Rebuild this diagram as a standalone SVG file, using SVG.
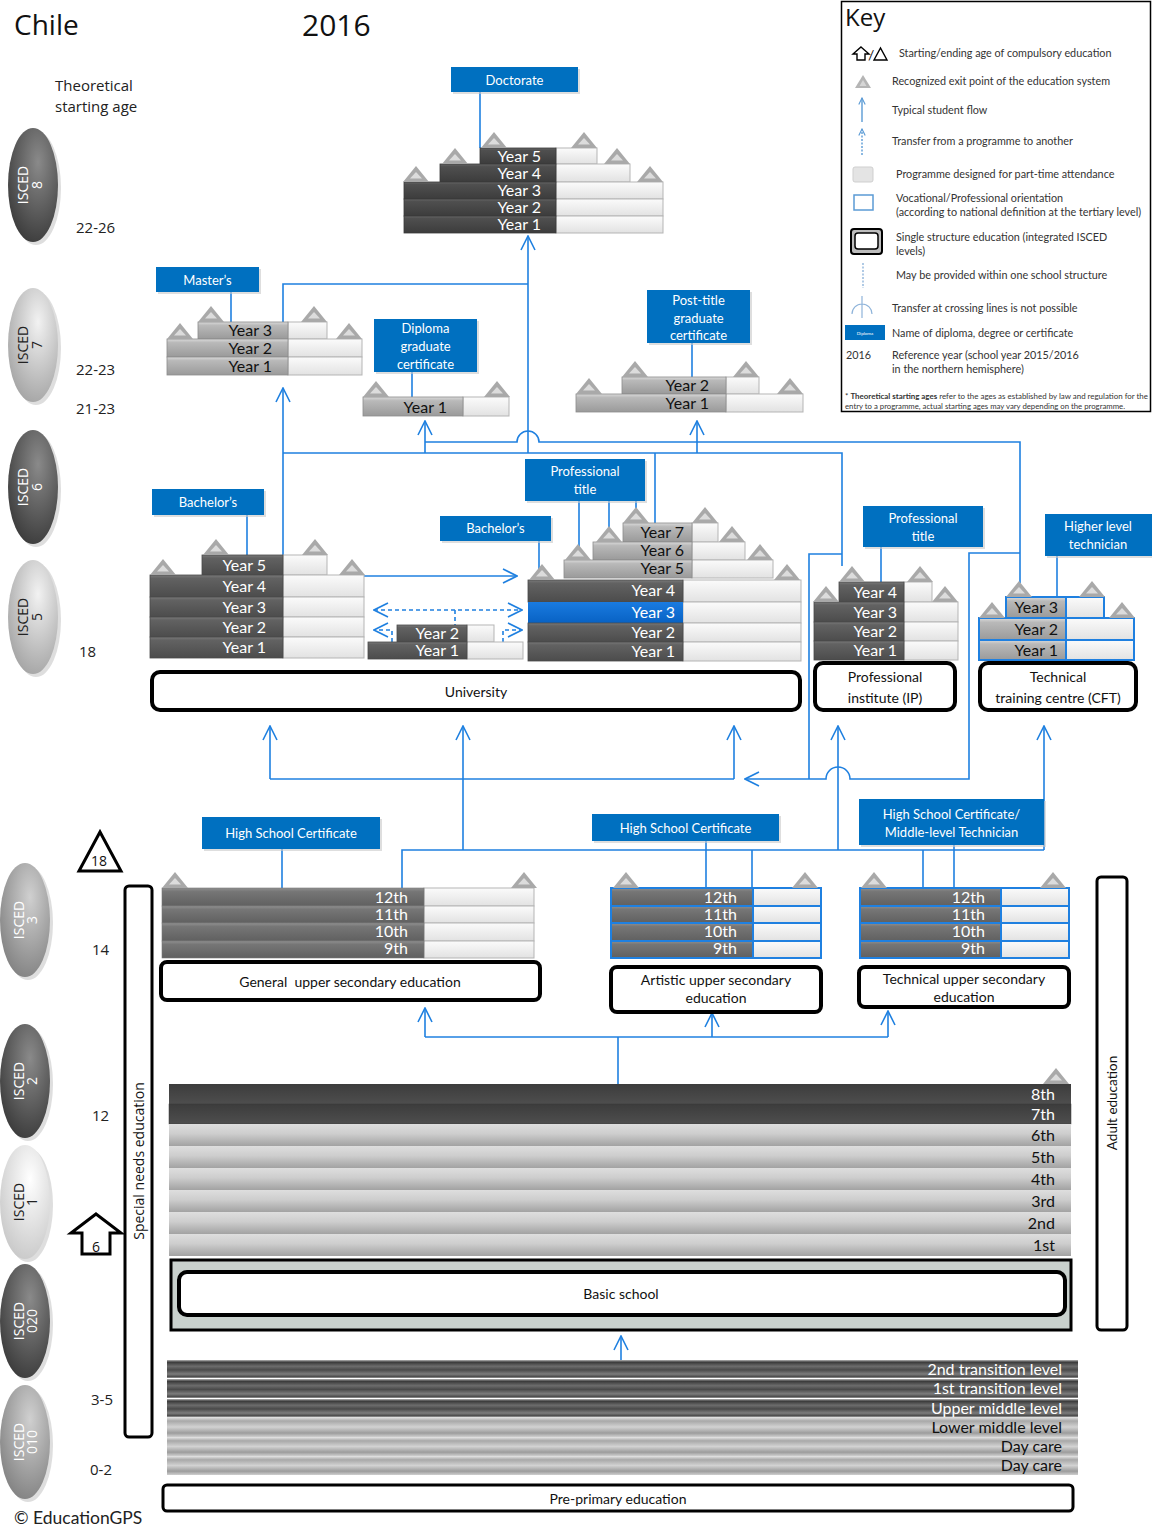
<svg xmlns="http://www.w3.org/2000/svg" width="1152" height="1527" viewBox="0 0 1152 1527">
<defs>
<style>
text{font-family:Lato,"Open Sans","Liberation Sans",sans-serif}
.os{font-family:"Open Sans","Liberation Sans",sans-serif}
.yr{font-size:16px;text-anchor:end}
.w{fill:#fff}
.k{fill:#111}
.lb{fill:#0070c0}
.sh{fill:#c8c8c8;opacity:.6}
.lt{fill:#fff;font-size:13px;text-anchor:middle}
.ln{fill:none;stroke:#1f80e0;stroke-width:1.6}
.ar{marker-end:url(#ah)}
.as{marker-start:url(#ah)}
.ds{stroke-dasharray:4 3}
.bx{fill:#fff;stroke:#000;stroke-width:4}
.bt{font-size:14px;text-anchor:middle;fill:#111}
.lp{fill:url(#gL);stroke:#b5b5b5;stroke-width:1}
.lpb{fill:url(#gL);stroke:#1f80e0;stroke-width:2}
.dk{fill:url(#gD);stroke:#4a4a4a;stroke-width:.8}
.doc{fill:url(#gDoc);stroke:#3a3a3a;stroke-width:.8}
.sv{fill:url(#gS);stroke:#8c8c8c;stroke-width:.8}
.svb{fill:url(#gS);stroke:#1f80e0;stroke-width:2}
.us{fill:url(#gUS);stroke:#777;stroke-width:.6}
.usb{fill:url(#gUS);stroke:#1f80e0;stroke-width:2}
.ov{font-size:14px;text-anchor:middle}
.age{font-size:15px;fill:#222}
.ky{font-size:10.8px;fill:#333}
</style>
<linearGradient id="gD" x1="0" y1="0" x2="0" y2="1"><stop offset="0" stop-color="#7a7a7a"/><stop offset=".15" stop-color="#626262"/><stop offset="1" stop-color="#4c4c4c"/></linearGradient>
<linearGradient id="gDoc" x1="0" y1="0" x2="0" y2="1"><stop offset="0" stop-color="#666"/><stop offset=".15" stop-color="#4f4f4f"/><stop offset="1" stop-color="#3c3c3c"/></linearGradient>
<linearGradient id="gS" x1="0" y1="0" x2="0" y2="1"><stop offset="0" stop-color="#dadada"/><stop offset=".2" stop-color="#b9b9b9"/><stop offset="1" stop-color="#9a9a9a"/></linearGradient>
<linearGradient id="gL" x1="0" y1="0" x2="0" y2="1"><stop offset="0" stop-color="#fbfbfb"/><stop offset="1" stop-color="#e2e2e2"/></linearGradient>
<linearGradient id="gB" x1="0" y1="0" x2="0" y2="1"><stop offset="0" stop-color="#1a7be0"/><stop offset="1" stop-color="#0862c4"/></linearGradient>
<linearGradient id="gUS" x1="0" y1="0" x2="0" y2="1"><stop offset="0" stop-color="#909090"/><stop offset=".2" stop-color="#767676"/><stop offset="1" stop-color="#606060"/></linearGradient>
<linearGradient id="gBD" x1="0" y1="0" x2="0" y2="1"><stop offset="0" stop-color="#3c3c3c"/><stop offset="1" stop-color="#4e4e4e"/></linearGradient>
<linearGradient id="gBL" x1="0" y1="0" x2="0" y2="1"><stop offset="0" stop-color="#dedede"/><stop offset=".45" stop-color="#cdcdcd"/><stop offset="1" stop-color="#a2a2a2"/></linearGradient>
<linearGradient id="gPD" x1="0" y1="0" x2="0" y2="1"><stop offset="0" stop-color="#b5b5b5"/><stop offset=".12" stop-color="#3a3a3a"/><stop offset=".35" stop-color="#6c6c6c"/><stop offset=".55" stop-color="#4a4a4a"/><stop offset=".78" stop-color="#7c7c7c"/><stop offset=".92" stop-color="#4e4e4e"/><stop offset="1" stop-color="#9a9a9a"/></linearGradient>
<linearGradient id="gPL" x1="0" y1="0" x2="0" y2="1"><stop offset="0" stop-color="#e6e6e6"/><stop offset=".2" stop-color="#a8a8a8"/><stop offset=".5" stop-color="#d2d2d2"/><stop offset=".8" stop-color="#9c9c9c"/><stop offset="1" stop-color="#cfcfcf"/></linearGradient>
<radialGradient id="oD" cx=".6" cy=".3" r=".8"><stop offset="0" stop-color="#8a8a8a"/><stop offset="1" stop-color="#353535"/></radialGradient>
<radialGradient id="oM" cx=".6" cy=".3" r=".8"><stop offset="0" stop-color="#d0d0d0"/><stop offset="1" stop-color="#7c7c7c"/></radialGradient>
<radialGradient id="oL" cx=".6" cy=".3" r=".8"><stop offset="0" stop-color="#f2f2f2"/><stop offset="1" stop-color="#9e9e9e"/></radialGradient>
<radialGradient id="oW" cx=".6" cy=".3" r=".8"><stop offset="0" stop-color="#ffffff"/><stop offset="1" stop-color="#c4c4c4"/></radialGradient>
<marker id="ah" viewBox="0 0 16 16" refX="15" refY="8" markerWidth="16" markerHeight="16" markerUnits="userSpaceOnUse" orient="auto-start-reverse"><path d="M1,1 L15,8 L1,15" fill="none" stroke="#1f80e0" stroke-width="1.6"/></marker>
<marker id="ahk" viewBox="0 0 10 10" refX="9" refY="5" markerWidth="8" markerHeight="8" markerUnits="userSpaceOnUse" orient="auto"><path d="M1,1 L9,5 L1,9" fill="none" stroke="#5b9bd5" stroke-width="1.4"/></marker>
<g id="tri"><path d="M-13,0 L0,-16 L13,0 Z" fill="#a9a9a9"/><path d="M-6,-3.5 L0,-10 L6,-3.5 Z" fill="#dcdcdc"/></g>
</defs>
<rect width="1152" height="1527" fill="#fff"/>

<g id="titles">
<text class="os" x="14" y="35" font-size="28" fill="#111">Chile</text>
<text class="os" x="302" y="36" font-size="30" fill="#111">2016</text>
<text class="os" x="55" y="91" font-size="15" fill="#222">Theoretical</text>
<text class="os" x="55" y="112" font-size="15" fill="#222">starting age</text>
<text x="14" y="1524" font-family="'Liberation Sans',Arial,sans-serif" font-size="17.5" fill="#222">© EducationGPS</text>
</g>

<g id="isced-levels">
<g id="isced8"><ellipse cx="36" cy="188" rx="25" ry="57" class="sh"/><ellipse cx="33" cy="185" rx="25" ry="57" fill="url(#oD)"/><g transform="translate(28,185) rotate(-90)"><text class="ov os w">ISCED</text><text class="ov os w" y="14">8</text></g></g>
<g id="isced7"><ellipse cx="36" cy="348" rx="25" ry="57" class="sh"/><ellipse cx="33" cy="345" rx="25" ry="57" fill="url(#oL)"/><g transform="translate(28,345) rotate(-90)"><text class="ov os" fill="#222">ISCED</text><text class="ov os" fill="#222" y="14">7</text></g></g>
<g id="isced6"><ellipse cx="36" cy="490" rx="25" ry="57" class="sh"/><ellipse cx="33" cy="487" rx="25" ry="57" fill="url(#oD)"/><g transform="translate(28,487) rotate(-90)"><text class="ov os w">ISCED</text><text class="ov os w" y="14">6</text></g></g>
<g id="isced5"><ellipse cx="36" cy="620" rx="25" ry="57" class="sh"/><ellipse cx="33" cy="617" rx="25" ry="57" fill="url(#oL)"/><g transform="translate(28,617) rotate(-90)"><text class="ov os" fill="#222">ISCED</text><text class="ov os" fill="#222" y="14">5</text></g></g>
<g id="isced3"><ellipse cx="28" cy="923" rx="25" ry="57" class="sh"/><ellipse cx="25" cy="920" rx="25" ry="57" fill="url(#oM)"/><g transform="translate(24,920) rotate(-90)"><text class="ov os w">ISCED</text><text class="ov os w" y="13">3</text></g></g>
<g id="isced2"><ellipse cx="28" cy="1084" rx="25" ry="57" class="sh"/><ellipse cx="25" cy="1081" rx="25" ry="57" fill="url(#oD)"/><g transform="translate(24,1081) rotate(-90)"><text class="ov os w">ISCED</text><text class="ov os w" y="13">2</text></g></g>
<g id="isced1"><ellipse cx="28" cy="1205" rx="25" ry="57" class="sh"/><ellipse cx="25" cy="1202" rx="25" ry="57" fill="url(#oW)"/><g transform="translate(24,1202) rotate(-90)"><text class="ov os" fill="#222">ISCED</text><text class="ov os" fill="#222" y="13">1</text></g></g>
<g id="isced020"><ellipse cx="28" cy="1324" rx="25" ry="57" class="sh"/><ellipse cx="25" cy="1321" rx="25" ry="57" fill="url(#oD)"/><g transform="translate(24,1321) rotate(-90)"><text class="ov os w">ISCED</text><text class="ov os w" y="13">020</text></g></g>
<g id="isced010"><ellipse cx="28" cy="1445" rx="25" ry="57" class="sh"/><ellipse cx="25" cy="1442" rx="25" ry="57" fill="url(#oM)"/><g transform="translate(24,1442) rotate(-90)"><text class="ov os w">ISCED</text><text class="ov os w" y="13">010</text></g></g>
</g>

<g id="ages">
<text class="os age" x="76" y="233">22-26</text>
<text class="os age" x="76" y="375">22-23</text>
<text class="os age" x="76" y="414">21-23</text>
<text class="os age" x="79" y="657">18</text>
<text class="os age" x="92" y="955">14</text>
<text class="os age" x="92" y="1121">12</text>
<text class="os age" x="91" y="1405">3-5</text>
<text class="os age" x="90" y="1475">0-2</text>
</g>

<g id="compulsory">
<path d="M79,871 L100,832 L121,871 Z" fill="#fff" stroke="#000" stroke-width="3"/>
<text class="os" x="99" y="866" font-size="14" text-anchor="middle" fill="#111">18</text>
<path d="M96,1214 L121,1233 L110,1233 L110,1254 L82,1254 L82,1233 L71,1233 Z" fill="#fff" stroke="#000" stroke-width="3"/>
<text class="os" x="96" y="1252" font-size="14" text-anchor="middle" fill="#111">6</text>
</g>

<g id="connectors">
<path class="ln" d="M480,92 V148"/>
<path class="ln" d="M231,292 V322"/>
<path class="ln" d="M412,372 V397"/>
<path class="ln" d="M692,343 V377"/>
<path class="ln" d="M247,515 V555"/>
<path class="ln" d="M579,501 V560 M609,501 V542 M636,501 V523"/>
<path class="ln" d="M539,541 V570"/>
<path class="ln" d="M881,547 V582"/>
<path class="ln" d="M1057,556 V597"/>
<path class="ln" d="M282,849 V888"/>
<path class="ln" d="M706,841 V888"/>
<path class="ln" d="M954,845 V888"/>
<path class="ln ar" d="M283,555 V388"/>
<path class="ln" d="M283,453 H842 V566"/>
<path class="ln ar" d="M528,453 V236"/>
<path class="ln" d="M283,322 V284 H528"/>
<path class="ln ar" d="M425,453 V421"/>
<path class="ln ar" d="M697,453 V421"/>
<path class="ln" d="M655,453 V523"/>
<path class="ln" d="M425,442 H517 A11,11 0 0 1 539,442 H1020 V583"/>
<path class="ln ar" d="M364,576 H517"/>
<path class="ln ds ar as" d="M374,610 H522"/>
<path class="ln ds" d="M455,610 V625"/>
<path class="ln ds ar" d="M392,642 V630 H374"/>
<path class="ln ds ar" d="M503,642 V630 H522"/>
<path class="ln" d="M842,554 H809 V779"/>
<path class="ln ar" d="M1020,553 H969 V779 H850 A12,12 0 0 0 826,779 H745"/>
<path class="ln" d="M270,779 H734"/>
<path class="ln ar" d="M270,779 V726"/>
<path class="ln ar" d="M734,779 V726"/>
<path class="ln" d="M402,888 V850 H1044"/>
<path class="ln ar" d="M463,850 V726"/>
<path class="ln ar" d="M838,850 V726"/>
<path class="ln ar" d="M1044,850 V726"/>
<path class="ln" d="M752,850 V888"/>
<path class="ln" d="M923,850 V888"/>
<path class="ln" d="M425,1037 H888"/>
<path class="ln ar" d="M425,1037 V1008"/>
<path class="ln ar" d="M712,1037 V1013"/>
<path class="ln ar" d="M888,1037 V1011"/>
<path class="ln" d="M618,1037 V1084"/>
<path class="ln ar" d="M621,1378 V1336"/>
</g>

<g id="doctorate">
<rect class="sh" x="453" y="69" width="127" height="25"/>
<rect class="lb" x="451" y="67" width="127" height="25"/>
<text class="lt" x="514.5" y="84.5">Doctorate</text>
<rect class="lp" x="556" y="148" width="41" height="16"/>
<rect class="lp" x="556" y="164" width="74" height="18"/>
<rect class="lp" x="556" y="182" width="107" height="17"/>
<rect class="lp" x="556" y="199" width="107" height="17"/>
<rect class="lp" x="556" y="216" width="107" height="17"/>
<rect class="doc" x="480" y="148" width="76" height="16"/>
<rect class="doc" x="440" y="164" width="116" height="18"/>
<rect class="doc" x="404" y="182" width="152" height="17"/>
<rect class="doc" x="404" y="199" width="152" height="17"/>
<rect class="doc" x="404" y="216" width="152" height="17"/>
<text class="yr w" x="541" y="161.5">Year 5</text>
<text class="yr w" x="541" y="178.5">Year 4</text>
<text class="yr w" x="541" y="196">Year 3</text>
<text class="yr w" x="541" y="213">Year 2</text>
<text class="yr w" x="541" y="230">Year 1</text>
<use href="#tri" x="494" y="148"/><use href="#tri" x="584" y="148"/>
<use href="#tri" x="455" y="164"/><use href="#tri" x="617" y="164"/>
<use href="#tri" x="416" y="182"/><use href="#tri" x="650" y="182"/>
</g>

<g id="masters">
<rect class="sh" x="158" y="269" width="103" height="25"/>
<rect class="lb" x="156" y="267" width="103" height="25"/>
<text class="lt" x="207.5" y="285">Master’s</text>
<rect class="lp" x="288" y="322" width="39" height="17"/>
<rect class="lp" x="288" y="339" width="74" height="18"/>
<rect class="lp" x="288" y="357" width="74" height="18"/>
<rect class="sv" x="198" y="322" width="90" height="17"/>
<rect class="sv" x="167" y="339" width="121" height="18"/>
<rect class="sv" x="167" y="357" width="121" height="18"/>
<text class="yr k" x="272" y="336">Year 3</text>
<text class="yr k" x="272" y="353.5">Year 2</text>
<text class="yr k" x="272" y="371.5">Year 1</text>
<use href="#tri" x="211" y="322"/><use href="#tri" x="314" y="322"/>
<use href="#tri" x="180" y="339"/><use href="#tri" x="349" y="339"/>
</g>

<g id="diploma">
<rect class="sh" x="376" y="321" width="103" height="53"/>
<rect class="lb" x="374" y="319" width="103" height="53"/>
<text class="lt" x="425.5" y="333">Diploma</text>
<text class="lt" x="425.5" y="351">graduate</text>
<text class="lt" x="425.5" y="369">certificate</text>
<rect class="lp" x="463" y="397" width="46" height="19"/>
<rect class="sv" x="363" y="397" width="100" height="19"/>
<text class="yr k" x="447" y="412.5">Year 1</text>
<use href="#tri" x="376" y="397"/><use href="#tri" x="497" y="397"/>
</g>

<g id="posttitle">
<rect class="sh" x="649" y="292" width="103" height="53"/>
<rect class="lb" x="647" y="290" width="103" height="53"/>
<text class="lt" x="698.5" y="304.5">Post-title</text>
<text class="lt" x="698.5" y="322.5">graduate</text>
<text class="lt" x="698.5" y="340">certificate</text>
<rect class="lp" x="726" y="377" width="33" height="17"/>
<rect class="lp" x="726" y="394" width="77" height="18"/>
<rect class="sv" x="622" y="377" width="104" height="17"/>
<rect class="sv" x="576" y="394" width="150" height="18"/>
<text class="yr k" x="709" y="391">Year 2</text>
<text class="yr k" x="709" y="409">Year 1</text>
<use href="#tri" x="635" y="377"/><use href="#tri" x="746" y="377"/>
<use href="#tri" x="589" y="394"/><use href="#tri" x="790" y="394"/>
</g>

<g id="bachelors-5">
<rect class="sh" x="154" y="491" width="112" height="26"/>
<rect class="lb" x="152" y="489" width="112" height="26"/>
<text class="lt" x="208" y="507">Bachelor’s</text>
<rect class="lp" x="283" y="555" width="44" height="20"/>
<rect class="lp" x="283" y="575" width="81" height="22"/>
<rect class="lp" x="283" y="597" width="81" height="20"/>
<rect class="lp" x="283" y="617" width="81" height="20"/>
<rect class="lp" x="283" y="637" width="81" height="21"/>
<rect class="dk" x="202" y="555" width="81" height="20"/>
<rect class="dk" x="150" y="575" width="133" height="22"/>
<rect class="dk" x="150" y="597" width="133" height="20"/>
<rect class="dk" x="150" y="617" width="133" height="20"/>
<rect class="dk" x="150" y="637" width="133" height="21"/>
<text class="yr w" x="266" y="570.5">Year 5</text>
<text class="yr w" x="266" y="591.5">Year 4</text>
<text class="yr w" x="266" y="612.5">Year 3</text>
<text class="yr w" x="266" y="632.5">Year 2</text>
<text class="yr w" x="266" y="653">Year 1</text>
<use href="#tri" x="216" y="555"/><use href="#tri" x="315" y="555"/>
<use href="#tri" x="163" y="575"/><use href="#tri" x="352" y="575"/>
</g>

<g id="short-programme">
<rect class="lp" x="467" y="625" width="27" height="17"/>
<rect class="lp" x="467" y="642" width="56" height="17"/>
<rect class="dk" x="397" y="625" width="70" height="17"/>
<rect class="dk" x="368" y="642" width="99" height="17"/>
<text class="yr w" x="459" y="638.5">Year 2</text>
<text class="yr w" x="459" y="656">Year 1</text>
</g>

<g id="professional-title-uni">
<rect class="sh" x="527" y="461" width="120" height="42"/>
<rect class="lb" x="525" y="459" width="120" height="42"/>
<text class="lt" x="585" y="476">Professional</text>
<text class="lt" x="585" y="494">title</text>
<rect class="sh" x="442" y="518" width="111" height="25"/>
<rect class="lb" x="440" y="516" width="111" height="25"/>
<text class="lt" x="495.5" y="533">Bachelor’s</text>
<rect class="lp" x="692" y="523" width="26" height="19"/>
<rect class="lp" x="692" y="542" width="53" height="18"/>
<rect class="lp" x="692" y="560" width="81" height="18"/>
<rect class="lp" x="683" y="580" width="118" height="22"/>
<rect class="lp" x="683" y="602" width="118" height="21"/>
<rect class="lp" x="683" y="623" width="118" height="19"/>
<rect class="lp" x="683" y="642" width="118" height="19"/>
<rect class="sv" x="623" y="523" width="69" height="19"/>
<rect class="sv" x="593" y="542" width="99" height="18"/>
<rect class="sv" x="564" y="560" width="128" height="18"/>
<rect class="dk" x="528" y="580" width="155" height="22"/>
<rect x="528" y="602" width="155" height="21" fill="url(#gB)"/>
<rect class="dk" x="528" y="623" width="155" height="19"/>
<rect class="dk" x="528" y="642" width="155" height="19"/>
<text class="yr k" x="684" y="538">Year 7</text>
<text class="yr k" x="684" y="556">Year 6</text>
<text class="yr k" x="684" y="574">Year 5</text>
<text class="yr w" x="675" y="596">Year 4</text>
<text class="yr w" x="675" y="617.5">Year 3</text>
<text class="yr w" x="675" y="637.5">Year 2</text>
<text class="yr w" x="675" y="656.5">Year 1</text>
<use href="#tri" x="636" y="523"/><use href="#tri" x="705" y="523"/>
<use href="#tri" x="609" y="542"/><use href="#tri" x="732" y="542"/>
<use href="#tri" x="578" y="560"/><use href="#tri" x="760" y="560"/>
<use href="#tri" x="542" y="580"/><use href="#tri" x="787" y="580"/>
</g>

<g id="university">
<rect class="bx" x="152" y="672" width="648" height="38" rx="8"/>
<text class="bt" x="476" y="697">University</text>
</g>

<g id="ip">
<rect class="sh" x="865" y="508" width="120" height="41"/>
<rect class="lb" x="863" y="506" width="120" height="41"/>
<text class="lt" x="923" y="523">Professional</text>
<text class="lt" x="923" y="541">title</text>
<rect class="lp" x="904" y="582" width="28" height="20"/>
<rect class="lp" x="904" y="602" width="54" height="20"/>
<rect class="lp" x="904" y="622" width="54" height="19"/>
<rect class="lp" x="904" y="641" width="54" height="19"/>
<rect class="dk" x="839" y="582" width="65" height="20"/>
<rect class="dk" x="814" y="602" width="90" height="20"/>
<rect class="dk" x="814" y="622" width="90" height="19"/>
<rect class="dk" x="814" y="641" width="90" height="19"/>
<text class="yr w" x="897" y="597.5">Year 4</text>
<text class="yr w" x="897" y="617.5">Year 3</text>
<text class="yr w" x="897" y="637">Year 2</text>
<text class="yr w" x="897" y="656">Year 1</text>
<use href="#tri" x="852" y="582"/><use href="#tri" x="920" y="582"/>
<use href="#tri" x="826" y="602"/><use href="#tri" x="945" y="602"/>
<rect class="bx" x="815" y="663" width="140" height="47" rx="8"/>
<text class="bt" x="885" y="682">Professional</text>
<text class="bt" x="885" y="703">institute (IP)</text>
</g>

<g id="cft">
<rect class="sh" x="1047" y="516" width="105" height="42"/>
<rect class="lb" x="1045" y="514" width="107" height="42"/>
<text class="lt" x="1098" y="531">Higher level</text>
<text class="lt" x="1098" y="549">technician</text>
<rect class="lpb" x="1066" y="597" width="38" height="21"/>
<rect class="lpb" x="1066" y="618" width="68" height="22"/>
<rect class="lpb" x="1066" y="640" width="68" height="20"/>
<rect class="svb" x="1006" y="597" width="60" height="21"/>
<rect class="svb" x="979" y="618" width="87" height="22"/>
<rect class="svb" x="979" y="640" width="87" height="20"/>
<text class="yr k" x="1058" y="613">Year 3</text>
<text class="yr k" x="1058" y="634.5">Year 2</text>
<text class="yr k" x="1058" y="655.5">Year 1</text>
<use href="#tri" x="1019" y="597"/><use href="#tri" x="1092" y="597"/>
<use href="#tri" x="992" y="618"/><use href="#tri" x="1122" y="618"/>
<rect class="bx" x="980" y="663" width="156" height="47" rx="8"/>
<text class="bt" x="1058" y="682">Technical</text>
<text class="bt" x="1058" y="703">training centre (CFT)</text>
</g>

<g id="general-upper-secondary">
<rect class="sh" x="204" y="819" width="178" height="32"/>
<rect class="lb" x="202" y="817" width="178" height="32"/>
<text class="lt" x="291" y="838">High School Certificate</text>
<rect class="lp" x="424" y="888" width="110" height="18"/>
<rect class="lp" x="424" y="906" width="110" height="17"/>
<rect class="lp" x="424" y="923" width="110" height="18"/>
<rect class="lp" x="424" y="941" width="110" height="17"/>
<rect class="us" x="162" y="888" width="262" height="18"/>
<rect class="us" x="162" y="906" width="262" height="17"/>
<rect class="us" x="162" y="923" width="262" height="18"/>
<rect class="us" x="162" y="941" width="262" height="17"/>
<text class="yr w" x="408" y="902.5">12th</text>
<text class="yr w" x="408" y="919.5">11th</text>
<text class="yr w" x="408" y="937">10th</text>
<text class="yr w" x="408" y="954">9th</text>
<use href="#tri" x="175" y="888"/><use href="#tri" x="524" y="888"/>
<rect class="bx" x="161" y="962" width="379" height="38" rx="6"/>
<text class="bt" x="350" y="987" xml:space="preserve">General  upper secondary education</text>
</g>

<g id="artistic-upper-secondary">
<rect class="sh" x="594" y="816" width="187" height="27"/>
<rect class="lb" x="592" y="814" width="187" height="27"/>
<text class="lt" x="685.5" y="832.5">High School Certificate</text>
<rect class="lpb" x="753" y="888" width="68" height="18"/>
<rect class="lpb" x="753" y="906" width="68" height="17"/>
<rect class="lpb" x="753" y="923" width="68" height="18"/>
<rect class="lpb" x="753" y="941" width="68" height="17"/>
<rect class="usb" x="611" y="888" width="142" height="18"/>
<rect class="usb" x="611" y="906" width="142" height="17"/>
<rect class="usb" x="611" y="923" width="142" height="18"/>
<rect class="usb" x="611" y="941" width="142" height="17"/>
<text class="yr w" x="737" y="902.5">12th</text>
<text class="yr w" x="737" y="919.5">11th</text>
<text class="yr w" x="737" y="937">10th</text>
<text class="yr w" x="737" y="954">9th</text>
<use href="#tri" x="626" y="888"/><use href="#tri" x="805" y="888"/>
<rect class="bx" x="611" y="967" width="210" height="45" rx="6"/>
<text class="bt" x="716" y="985" font-size="13">Artistic upper secondary</text>
<text class="bt" x="716" y="1003" font-size="13">education</text>
</g>

<g id="technical-upper-secondary">
<rect class="sh" x="861" y="801" width="185" height="46"/>
<rect class="lb" x="859" y="799" width="185" height="46"/>
<text class="lt" x="951.5" y="819">High School Certificate/</text>
<text class="lt" x="951.5" y="837">Middle-level Technician</text>
<rect class="lpb" x="1001" y="888" width="68" height="18"/>
<rect class="lpb" x="1001" y="906" width="68" height="17"/>
<rect class="lpb" x="1001" y="923" width="68" height="18"/>
<rect class="lpb" x="1001" y="941" width="68" height="17"/>
<rect class="usb" x="860" y="888" width="141" height="18"/>
<rect class="usb" x="860" y="906" width="141" height="17"/>
<rect class="usb" x="860" y="923" width="141" height="18"/>
<rect class="usb" x="860" y="941" width="141" height="17"/>
<text class="yr w" x="985" y="902.5">12th</text>
<text class="yr w" x="985" y="919.5">11th</text>
<text class="yr w" x="985" y="937">10th</text>
<text class="yr w" x="985" y="954">9th</text>
<use href="#tri" x="874" y="888"/><use href="#tri" x="1053" y="888"/>
<rect class="bx" x="859" y="967" width="210" height="40" rx="6"/>
<text class="bt" x="964" y="984" font-size="13">Technical upper secondary</text>
<text class="bt" x="964" y="1002" font-size="13">education</text>
</g>

<g id="basic-school">
<rect x="169" y="1084" width="902" height="20" fill="url(#gBD)"/>
<rect x="169" y="1104" width="902" height="20" fill="url(#gBD)" stroke="#3a3a3a" stroke-width=".5"/>
<rect x="169" y="1124" width="902" height="22" fill="url(#gBL)"/>
<rect x="169" y="1146" width="902" height="22" fill="url(#gBL)"/>
<rect x="169" y="1168" width="902" height="22" fill="url(#gBL)"/>
<rect x="169" y="1190" width="902" height="22" fill="url(#gBL)"/>
<rect x="169" y="1212" width="902" height="22" fill="url(#gBL)"/>
<rect x="169" y="1234" width="902" height="22" fill="url(#gBL)"/>
<text class="yr w" x="1055" y="1100" font-size="15">8th</text>
<text class="yr w" x="1055" y="1120" font-size="15">7th</text>
<text class="yr k" x="1055" y="1141" font-size="15">6th</text>
<text class="yr k" x="1055" y="1163" font-size="15">5th</text>
<text class="yr k" x="1055" y="1185" font-size="15">4th</text>
<text class="yr k" x="1055" y="1207" font-size="15">3rd</text>
<text class="yr k" x="1055" y="1229" font-size="15">2nd</text>
<text class="yr k" x="1055" y="1251" font-size="15">1st</text>
<use href="#tri" x="1056" y="1084"/>
<rect x="171" y="1260" width="900" height="70" fill="#c9d1cd" stroke="#000" stroke-width="3"/>
<rect class="bx" x="179" y="1272" width="886" height="43" rx="8"/>
<text class="bt" x="621" y="1299">Basic school</text>
</g>

<g id="pre-primary">
<rect x="167" y="1360" width="911" height="18" fill="url(#gPD)"/>
<rect x="167" y="1379" width="911" height="19" fill="url(#gPD)"/>
<rect x="167" y="1399" width="911" height="18" fill="url(#gPD)"/>
<rect x="167" y="1417" width="911" height="20" fill="url(#gPL)"/>
<rect x="167" y="1437" width="911" height="19" fill="url(#gPL)"/>
<rect x="167" y="1456" width="911" height="19" fill="url(#gPL)"/>
<text class="yr w" x="1062" y="1374.5" font-size="15">2nd transition level</text>
<text class="yr w" x="1062" y="1394" font-size="15">1st transition level</text>
<text class="yr w" x="1062" y="1413.5" font-size="15">Upper middle level</text>
<text class="yr k" x="1062" y="1433" font-size="15">Lower middle level</text>
<text class="yr k" x="1062" y="1452" font-size="15">Day care</text>
<text class="yr k" x="1062" y="1471" font-size="15">Day care</text>
<rect x="163" y="1485" width="910" height="26" rx="4" fill="#fff" stroke="#000" stroke-width="3"/>
<text class="bt" x="618" y="1504">Pre-primary education</text>
</g>

<g id="special-needs">
<rect x="125" y="886" width="27" height="551" rx="4" fill="#fff" stroke="#000" stroke-width="3"/>
<text class="os" transform="translate(144,1161) rotate(-90)" font-size="14" text-anchor="middle" fill="#111">Special needs education</text>
</g>

<g id="adult-education">
<rect x="1097" y="877" width="30" height="453" rx="4" fill="#fff" stroke="#000" stroke-width="3"/>
<text transform="translate(1117,1103) rotate(-90)" font-family="'DejaVu Sans',Verdana,sans-serif" font-size="13.5" text-anchor="middle" fill="#111">Adult education</text>
</g>

<g id="key">
<rect x="841.5" y="1.5" width="309" height="410" fill="#fff" stroke="#000" stroke-width="1.5"/>
<text class="os" x="845" y="26" font-size="24" fill="#111">Key</text>
<path d="M861,47 L869,54 L865,54 L865,60 L857,60 L857,54 L853,54 Z" fill="#fff" stroke="#000" stroke-width="1.4"/>
<text x="868" y="60" font-size="14" fill="#111">/</text>
<path d="M874,60 L880.5,48 L887,60 Z" fill="#fff" stroke="#000" stroke-width="1.4"/>
<text class="ky" x="899" y="57">Starting/ending age of compulsory education</text>
<path d="M855,88 L863,75 L871,88 Z" fill="#b5b5b5"/>
<path d="M859.5,86 L863,80 L866.5,86 Z" fill="#d6d6d6"/>
<text class="ky" x="892" y="85">Recognized exit point of the education system</text>
<path d="M862,122 V98" fill="none" stroke="#5b9bd5" stroke-width="1.4" marker-end="url(#ahk)"/>
<text class="ky" x="892" y="114">Typical student flow</text>
<path d="M862,155 V129" fill="none" stroke="#5b9bd5" stroke-width="1.4" stroke-dasharray="2 1.5" marker-end="url(#ahk)"/>
<text class="ky" x="892" y="145">Transfer from a programme to another</text>
<rect x="853" y="167" width="20" height="15" rx="2" fill="#e4e4e4" stroke="#cfcfcf"/>
<text class="ky" x="896" y="178">Programme designed for part-time attendance</text>
<rect x="854" y="195" width="19" height="15" fill="#fff" stroke="#5b9bd5" stroke-width="1.5"/>
<text class="ky" x="896" y="202">Vocational/Professional orientation</text>
<text class="ky" x="896" y="216">(according to national definition at the tertiary level)</text>
<rect x="851" y="229" width="31" height="25" rx="3" fill="#bdbdbd" stroke="#000" stroke-width="2"/>
<rect x="855" y="233" width="23" height="16" rx="3" fill="#fff" stroke="#000" stroke-width="1.5"/>
<text class="ky" x="896" y="241">Single structure education (integrated ISCED</text>
<text class="ky" x="896" y="255">levels)</text>
<path d="M863,263 V288" stroke="#8fb4da" stroke-width="1.4" stroke-dasharray="2 1.5"/>
<text class="ky" x="896" y="279">May be provided within one school structure</text>
<path d="M862,296 V318 M852,314 A10,10 0 0 1 872,314" fill="none" stroke="#8fb4da" stroke-width="1.2"/>
<text class="ky" x="892" y="312">Transfer at crossing lines is not possible</text>
<rect x="845" y="325" width="40" height="15" fill="#0070c0"/>
<text x="865" y="334.5" font-size="4.5" text-anchor="middle" fill="#fff">Diploma</text>
<text class="ky" x="892" y="337">Name of diploma, degree or certificate</text>
<text class="ky" x="846" y="359">2016</text>
<text class="ky" x="892" y="359">Reference year (school year 2015/2016</text>
<text class="ky" x="892" y="373">in the northern hemisphere)</text>
<text x="845" y="399" font-family="'Liberation Sans',Arial,sans-serif" font-size="6.6" fill="#333" textLength="303" lengthAdjust="spacingAndGlyphs">* <tspan font-weight="bold">Theoretical starting ages</tspan> refer to the ages as established by law and regulation for the</text>
<text x="845" y="409" font-family="'Liberation Sans',Arial,sans-serif" font-size="6.6" fill="#333" textLength="280" lengthAdjust="spacingAndGlyphs">entry to a programme, actual starting ages may vary depending on the programme.</text>
</g>
</svg>
